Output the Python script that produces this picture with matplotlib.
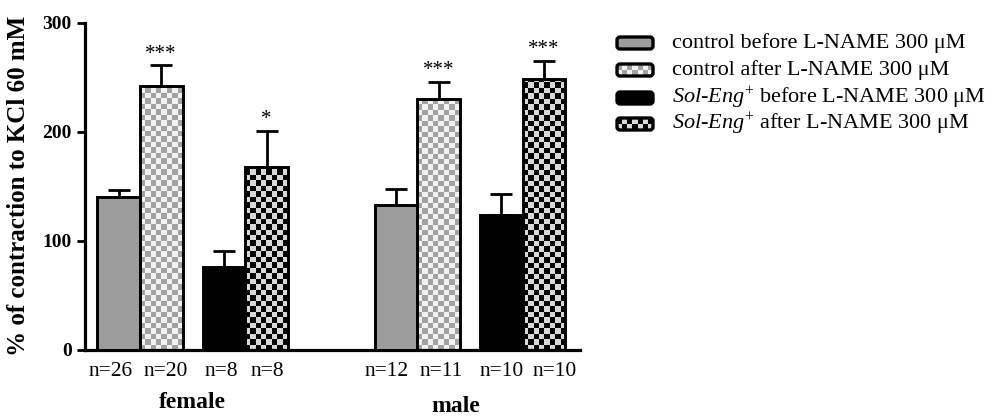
import numpy as np
import matplotlib
matplotlib.use("Agg")
import matplotlib.pyplot as plt
from matplotlib.patches import FancyBboxPatch

plt.rcParams['font.family'] = ['Liberation Serif', 'DejaVu Serif']
plt.rcParams['mathtext.fontset'] = 'custom'
plt.rcParams['mathtext.rm'] = 'Liberation Serif'
plt.rcParams['mathtext.it'] = 'Liberation Serif:italic'

# ---- data ----
groups = ["female", "male"]
series = ["control before L-NAME 300 μM",
          "control after L-NAME 300 μM",
          r"$\mathit{Sol}$-$\mathit{Eng}^{+}$ before L-NAME 300 μM",
          r"$\mathit{Sol}$-$\mathit{Eng}^{+}$ after L-NAME 300 μM"]
female_means = [140, 242, 76, 168]
female_sem = [7, 19, 15, 33]
male_means = [133, 230, 124, 248]
male_sem = [15, 16, 19, 17]
female_n = ["n=26", "n=20", "n=8", "n=8"]
male_n = ["n=12", "n=11", "n=10", "n=10"]
female_sig = ["", "***", "", "*"]
male_sig = ["", "***", "", "***"]
yticks = [0, 100, 200, 300]

# ---- styles ----
solid_colors = ["#9c9c9c", None, "#000000", None]
checker_colors = [None, ("#a2a2a2", "#f2f2f2"), None, ("#000000", "#d8d8d8")]
# horizontal nudges (px) of the n= labels, as in the reference layout
n_shift = [[-8, 5, -3, 1], [-9, 2, 0, 11]]

fig = plt.figure(figsize=(10, 4.16), dpi=100)
ax = fig.add_axes([0.085, 66 / 416, 0.495, (350 - 22.7) / 416])

within = [0, 1, 2.47, 3.47]
offsets = [0, 6.5]
W = 1.0


def checker_img(nx, ny, c1, c2):
    a = np.array(matplotlib.colors.to_rgb(c1))
    b = np.array(matplotlib.colors.to_rgb(c2))
    img = np.zeros((ny, nx, 3))
    for i in range(ny):
        for j in range(nx):
            img[i, j] = a if (i + j) % 2 == 0 else b
    return img


all_means = [female_means, male_means]
all_sem = [female_sem, male_sem]
all_n = [female_n, male_n]
all_sig = [female_sig, male_sig]

for g, off in enumerate(offsets):
    xs = [off + w for w in within]
    for k in range(4):
        x = xs[k]
        h = all_means[g][k]
        e = all_sem[g][k]
        if solid_colors[k] is not None:
            ax.bar(x, h, width=W, color=solid_colors[k], edgecolor='black',
                   linewidth=2.1, zorder=3)
        else:
            bars = ax.bar(x, h, width=W, color='white', edgecolor='none',
                          linewidth=0, zorder=2)
            patch = bars[0]
            cell = 5.0
            ny = int(np.ceil(h / cell))
            img = checker_img(8, ny, *checker_colors[k])
            im = ax.imshow(img, extent=(x - W / 2, x + W / 2, 0, ny * cell),
                           origin='lower', interpolation='nearest',
                           aspect='auto', zorder=2.5)
            im.set_clip_path(patch)
            ax.bar(x, h, width=W, color='none', edgecolor='black',
                   linewidth=2.1, zorder=3)
        ax.errorbar(x, h, yerr=[[0], [e]], fmt='none', ecolor='black',
                    elinewidth=2.0, capsize=8, capthick=2.0, zorder=2.8)
        if all_sig[g][k]:
            ax.text(x, h + e + 6, all_sig[g][k], ha='center', va='baseline',
                    fontsize=15, zorder=4)
        ax.annotate(all_n[g][k], xy=(x, 0), xycoords=('data', 'axes fraction'),
                    xytext=(n_shift[g][k] * 0.72, -15.5), textcoords='offset points',
                    ha='center', va='center', fontsize=15.5)
    gx = (xs[0] + xs[-1]) / 2 - (0.0 if g == 0 else 0.33)
    gy = -38 if g == 0 else -41
    ax.annotate(groups[g], xy=(gx, 0), xycoords=('data', 'axes fraction'),
                xytext=(0, gy), textcoords='offset points',
                ha='center', va='center', fontsize=17, fontweight='bold')

ax.set_xlim(-0.785, 10.81)
ax.set_ylim(0, 300)
ax.set_xticks([])
ax.set_yticks(yticks)
ax.set_yticklabels([str(t) for t in yticks], fontsize=14, fontweight='bold')
ax.tick_params(axis='y', direction='out', length=5.5, width=2.0, pad=4)
for s in ['top', 'right']:
    ax.spines[s].set_visible(False)
for s in ['left', 'bottom']:
    ax.spines[s].set_linewidth(2.3)
ax.patch.set_visible(False)

fig.text(0.019, 1 - 186 / 416, "% of contraction to KCl 60 mM", rotation=90,
         ha='center', va='center', fontsize=18, fontweight='bold')

# ---- legend (manual) ----
lax = fig.add_axes([0, 0, 1, 1])
lax.set_xlim(0, 1000)
lax.set_ylim(416, 0)
lax.axis('off')
lax.patch.set_visible(False)
rows_y = [43, 70, 98, 124]
for k in range(4):
    y = rows_y[k]
    x0, w, hh = 617, 36, 12
    fc = solid_colors[k] if solid_colors[k] is not None else 'none'
    box = FancyBboxPatch((x0, y - hh / 2), w, hh,
                         boxstyle="round,pad=0,rounding_size=3",
                         facecolor=fc, edgecolor='black', linewidth=2.4, zorder=3)
    lax.add_patch(box)
    if solid_colors[k] is None:
        img = checker_img(7, 2, *checker_colors[k])
        im = lax.imshow(img, extent=(x0, x0 + w, y + hh / 2, y - hh / 2),
                        origin='upper', interpolation='nearest', aspect='auto',
                        zorder=2.5)
        im.set_clip_path(box)
    lax.text(672, y, series[k], ha='left', va='center', fontsize=16)
lax.set_xlim(0, 1000)
lax.set_ylim(416, 0)

fig.savefig("out.png", dpi=100)
